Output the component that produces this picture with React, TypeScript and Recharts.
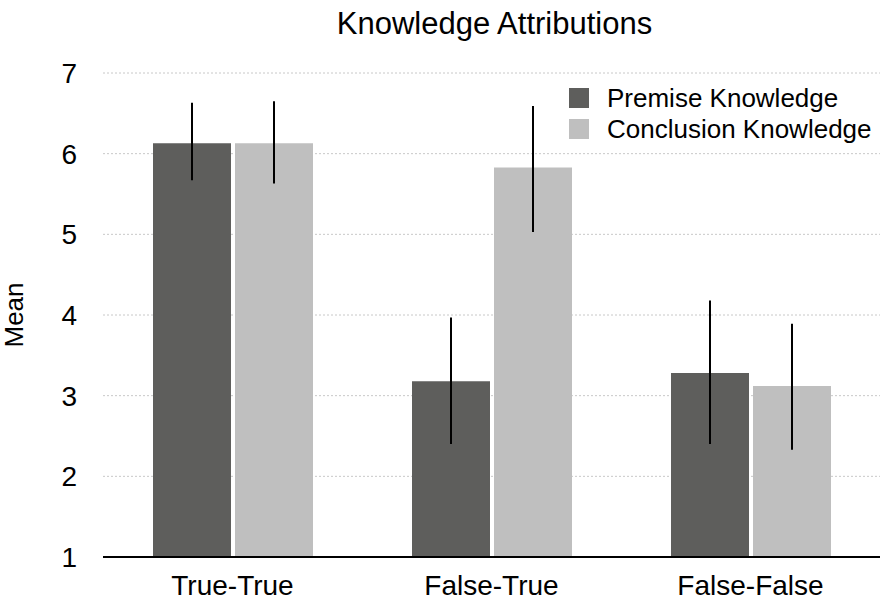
import { Bar, BarChart, CartesianGrid, ErrorBar, Legend, XAxis, YAxis } from "recharts";

const categories = ["True-True", "False-True", "False-False"];
const premiseMean = [6.13, 3.18, 3.28];
const premiseLow = [5.67, 2.4, 2.4];
const premiseHigh = [6.63, 3.97, 4.18];
const conclusionMean = [6.13, 5.83, 3.12];
const conclusionLow = [5.63, 5.03, 2.33];
const conclusionHigh = [6.65, 6.59, 3.89];
const yTicks = [1, 2, 3, 4, 5, 6, 7];

const DARK = "#5e5e5c";
const LIGHT = "#bfbfbf";
const FONT = "'Liberation Sans', Arial, Helvetica, sans-serif";

// error bars are offsets from the mean: [below, above]
const data = categories.map((name, i) => ({
  name,
  premise: premiseMean[i],
  premiseErr: [premiseMean[i] - premiseLow[i], premiseHigh[i] - premiseMean[i]],
  conclusion: conclusionMean[i],
  conclusionErr: [conclusionMean[i] - conclusionLow[i], conclusionHigh[i] - conclusionMean[i]],
}));

function LegendBox() {
  const rows = [
    { label: "Premise Knowledge", color: DARK },
    { label: "Conclusion Knowledge", color: LIGHT },
  ];
  return (
    <div style={{ fontFamily: FONT, fontSize: 26, color: "#000", lineHeight: 1 }}>
      {rows.map((r) => (
        <div key={r.label} style={{ display: "flex", alignItems: "center", height: 31 }}>
          <span style={{ width: 20, height: 20, background: r.color, display: "inline-block", marginRight: 18 }} />
          <span>{r.label}</span>
        </div>
      ))}
    </div>
  );
}

export default function App() {
  return (
    <div style={{ position: "relative", width: 881, height: 602, background: "#fff", fontFamily: FONT }}>
      <style>{"body{margin:0}"}</style>
      <div
        style={{
          position: "absolute",
          top: 6,
          left: 0,
          width: 881,
          paddingLeft: 108,
          boxSizing: "border-box",
          textAlign: "center",
          fontSize: 31,
          zIndex: 2,
        }}
      >
        Knowledge Attributions
      </div>
      <BarChart
        width={881}
        height={602}
        data={data}
        margin={{ top: 73, right: 1, left: 0, bottom: 0 }}
        barCategoryGap={50}
        barGap={4}
      >
        <CartesianGrid stroke="#c8c8c8" strokeDasharray="2 2" vertical={false} />
        <XAxis
          dataKey="name"
          height={45}
          tickLine={false}
          axisLine={{ stroke: "#000", strokeWidth: 2 }}
          tick={{ fill: "#000", fontSize: 28, fontFamily: FONT }}
          tickMargin={12}
        />
        <YAxis
          width={103}
          domain={[1, 7]}
          ticks={yTicks}
          interval={0}
          axisLine={false}
          tickLine={false}
          tickMargin={20}
          tick={{ fill: "#000", fontSize: 28, fontFamily: FONT }}
          label={{
            value: "Mean",
            angle: -90,
            position: "insideLeft",
            offset: 14,
            style: { fill: "#000", fontSize: 26, fontFamily: FONT, textAnchor: "middle" },
          }}
        />
        <Legend
          layout="horizontal"
          verticalAlign="middle"
          align="center"
          content={() => <LegendBox />}
          wrapperStyle={{ position: "absolute", top: 82, left: 569, width: 312, height: 62 }}
        />
        <Bar dataKey="premise" name="Premise Knowledge" fill={DARK} isAnimationActive={false}>
          <ErrorBar dataKey="premiseErr" width={0} stroke="#000" strokeWidth={2} isAnimationActive={false} />
        </Bar>
        <Bar dataKey="conclusion" name="Conclusion Knowledge" fill={LIGHT} isAnimationActive={false}>
          <ErrorBar dataKey="conclusionErr" width={0} stroke="#000" strokeWidth={2} isAnimationActive={false} />
        </Bar>
      </BarChart>
    </div>
  );
}
